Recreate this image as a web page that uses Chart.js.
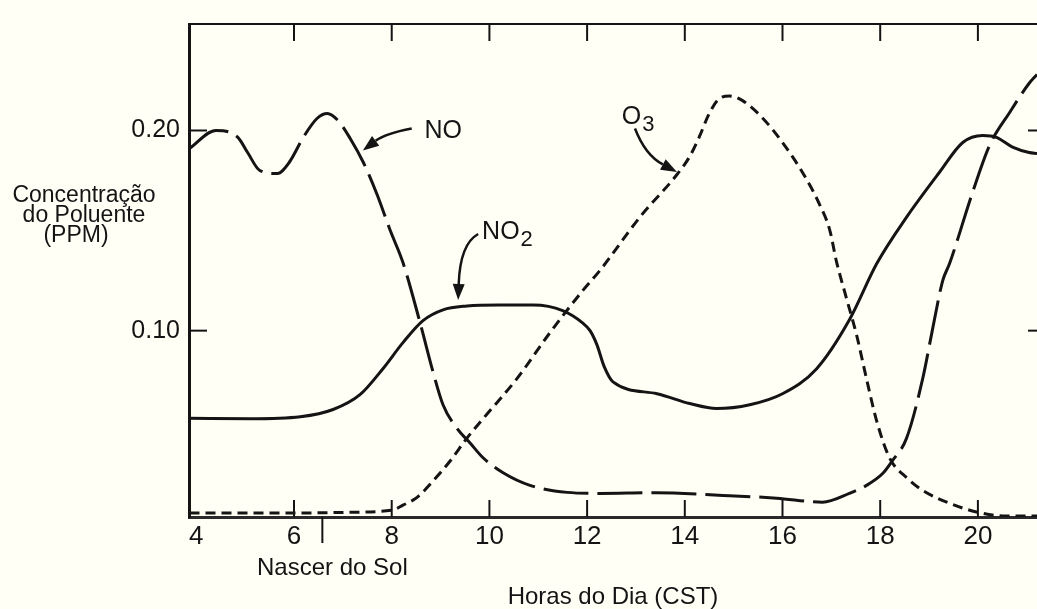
<!DOCTYPE html>
<html>
<head>
<meta charset="utf-8">
<script src="https://cdn.jsdelivr.net/npm/chart.js@4/dist/chart.umd.min.js"></script>
<style>
  body { margin: 0; background: #fffff6; }
  #wrap { width: 1037px; height: 609px; }
</style>
</head>
<body>
<div id="wrap"><canvas id="smogChart" width="1037" height="609"></canvas></div>
<script>
// hours of day (CST) and concentrations (ppm)
const noHours = [3.86, 4.4, 4.85, 5.05, 5.3, 5.66, 5.9, 6.2, 6.47, 6.68, 6.9, 7.15, 7.42, 7.7, 7.97, 8.23, 8.58, 8.85, 9.05, 9.34, 9.6, 9.87, 10.28, 10.83, 11.59, 12.26, 13.4, 14.78, 15.88, 16.82, 17.37, 17.72, 18.05, 18.25, 18.54, 18.87, 19.07, 19.28, 19.42, 19.89, 20.24, 20.65, 21.05, 21.21];
const noValues = [0.191, 0.200, 0.1966, 0.189, 0.180, 0.1785, 0.184, 0.197, 0.206, 0.2085, 0.205, 0.196, 0.184, 0.168, 0.150, 0.134, 0.104, 0.079, 0.063, 0.051, 0.044, 0.0365, 0.029, 0.0227, 0.0192, 0.0187, 0.019, 0.0177, 0.0163, 0.0143, 0.0187, 0.0227, 0.0286, 0.035, 0.0463, 0.076, 0.1005, 0.125, 0.1335, 0.169, 0.1926, 0.209, 0.2236, 0.228];

const no2Hours = [3.86, 5.1, 6.13, 6.8, 7.35, 7.82, 8.23, 8.64, 9.05, 9.54, 10.2, 10.9, 11.5, 11.9, 12.06, 12.2, 12.35, 12.53, 13.43, 14.1, 14.65, 15.33, 16.0, 16.7, 17.37, 17.93, 18.54, 19.21, 19.69, 20.1, 20.38, 20.71, 21.05, 21.21];
const no2Values = [0.0562, 0.0560, 0.057, 0.0606, 0.068, 0.081, 0.094, 0.105, 0.1104, 0.1123, 0.1128, 0.1128, 0.110, 0.104, 0.1, 0.093, 0.082, 0.0744, 0.0685, 0.0636, 0.0611, 0.063, 0.0685, 0.081, 0.1054, 0.1335, 0.1567, 0.179, 0.194, 0.1975, 0.1966, 0.1917, 0.189, 0.1885];

const o3Hours = [3.86, 5, 6, 7, 8, 8.23, 8.52, 8.85, 9.2, 9.54, 9.87, 10.56, 11.24, 11.91, 12.26, 13.08, 13.84, 14.1, 14.3, 14.5, 14.7, 14.92, 15.19, 15.6, 16.0, 16.41, 16.76, 16.97, 17.1, 17.3, 17.52, 17.72, 17.93, 18.19, 18.54, 18.87, 19.42, 19.97, 20.58, 21.21];
const o3Values = [0.0089, 0.0089, 0.0089, 0.0092, 0.0103, 0.0128, 0.0167, 0.025, 0.035, 0.0463, 0.056, 0.0759, 0.099, 0.120, 0.130, 0.1567, 0.178, 0.187, 0.197, 0.2085, 0.2158, 0.2172, 0.2148, 0.206, 0.194, 0.179, 0.163, 0.15, 0.135, 0.117, 0.0975, 0.0759, 0.0547, 0.0365, 0.0266, 0.0202, 0.0138, 0.0094, 0.0074, 0.0074];

const xTicks = [4, 6, 8, 10, 12, 14, 16, 18, 20];
const yTicks = [0.10, 0.20];
const sunrise = 6.58;

const ink = '#141414';
const font = '"Liberation Sans", Arial, sans-serif';

const pts = (hs, vs) => hs.map((h, i) => ({ x: h, y: vs[i] }));

function line(ctx, x1, y1, x2, y2) {
    ctx.beginPath();
    ctx.moveTo(x1, y1);
    ctx.lineTo(x2, y2);
    ctx.stroke();
}

// curved arrow with filled head, points given in data units
function arrow(ctx, x, y, from, ctrl, tip) {
    const p0 = [x.getPixelForValue(from[0]), y.getPixelForValue(from[1])];
    const c = [x.getPixelForValue(ctrl[0]), y.getPixelForValue(ctrl[1])];
    const p1 = [x.getPixelForValue(tip[0]), y.getPixelForValue(tip[1])];
    const ang = Math.atan2(p1[1] - c[1], p1[0] - c[0]);
    const len = 16, w = 6;
    const bx = p1[0] - len * Math.cos(ang), by = p1[1] - len * Math.sin(ang);
    ctx.lineWidth = 2.5;
    ctx.beginPath();
    ctx.moveTo(p0[0], p0[1]);
    ctx.quadraticCurveTo(c[0], c[1], bx, by);
    ctx.stroke();
    ctx.beginPath();
    ctx.moveTo(p1[0], p1[1]);
    ctx.lineTo(bx + w * Math.sin(ang), by - w * Math.cos(ang));
    ctx.lineTo(bx - w * Math.sin(ang), by + w * Math.cos(ang));
    ctx.closePath();
    ctx.fill();
}

function chem(ctx, x, y, base, sub, at) {
    const px = x.getPixelForValue(at[0]), py = y.getPixelForValue(at[1]);
    ctx.font = '25px ' + font;
    ctx.textAlign = 'left';
    ctx.textBaseline = 'alphabetic';
    ctx.fillText(base, px, py);
    if (sub) {
        const w = ctx.measureText(base).width;
        ctx.font = '22px ' + font;
        ctx.fillText(sub, px + w + 1, py + 7);
    }
}

const framePlugin = {
    id: 'frame',
    afterDraw(chart) {
        const { ctx, chartArea: a, scales: { x, y } } = chart;
        ctx.save();
        ctx.strokeStyle = ink;
        ctx.fillStyle = ink;

        ctx.lineWidth = 2;
        line(ctx, a.left, a.top, a.right, a.top);

        x.ticks.forEach(t => {
            if (t.value <= 4) return;
            const px = x.getPixelForValue(t.value);
            line(ctx, px, a.top, px, a.top + 17);
            line(ctx, px, a.bottom, px, a.bottom - 17);
        });
        y.ticks.forEach(t => {
            const py = y.getPixelForValue(t.value);
            line(ctx, a.left, py, a.left + 18, py);
            line(ctx, a.right - 9, py, a.right, py);
        });

        // sunrise mark under the axis
        const sx = x.getPixelForValue(sunrise);
        line(ctx, sx, a.bottom, sx, a.bottom + 26);
        ctx.font = '24px ' + font;
        ctx.textAlign = 'left';
        ctx.textBaseline = 'alphabetic';
        ctx.fillText('Nascer do Sol', 257, 575);

        // y title
        ctx.font = '23px ' + font;
        ctx.textAlign = 'center';
        ctx.fillText('Concentração', 84, 202);
        ctx.fillText('do Poluente', 84, 222);
        ctx.fillText('(PPM)', 76, 242);

        // curve labels
        chem(ctx, x, y, 'NO', '', [8.67, 0.196]);
        arrow(ctx, x, y, [8.41, 0.201], [7.87, 0.1985], [7.41, 0.190]);
        chem(ctx, x, y, 'NO', '2', [9.85, 0.1458]);
        arrow(ctx, x, y, [9.77, 0.1483], [9.4, 0.1433], [9.36, 0.1153]);
        chem(ctx, x, y, 'O', '3', [12.71, 0.2034]);
        arrow(ctx, x, y, [12.98, 0.201], [13.19, 0.1877], [13.84, 0.1793]);
        ctx.restore();
    }
};

new Chart(document.getElementById('smogChart'), {
    type: 'line',
    data: {
        datasets: [
            { label: 'NO', data: pts(noHours, noValues), borderDash: [45, 9] },
            { label: 'NO2', data: pts(no2Hours, no2Values) },
            { label: 'O3', data: pts(o3Hours, o3Values), borderDash: [10, 6] }
        ]
    },
    options: {
        responsive: false,
        animation: false,
        layout: { padding: { top: 17, right: 0, left: 0, bottom: 0 } },
        elements: {
            point: { radius: 0 },
            line: { borderColor: ink, borderWidth: 3, cubicInterpolationMode: 'monotone', fill: false }
        },
        plugins: { legend: { display: false }, tooltip: { enabled: false } },
        scales: {
            x: {
                type: 'linear',
                min: 3.85,
                max: 21.21,
                afterBuildTicks: s => { s.ticks = xTicks.map(v => ({ value: v })); },
                afterFit: s => { s.height = 92; },
                grid: { display: false, drawTicks: false },
                border: { display: true, width: 3, color: '#2a2a2a' },
                ticks: { color: ink, padding: 4, font: { family: font, size: 26 }, maxRotation: 0, callback: v => String(v) },
                title: { display: true, text: 'Horas do Dia (CST)', color: ink, padding: 0, font: { family: font, size: 24, lineHeight: 1 } }
            },
            y: {
                min: 0.0069,
                max: 0.2532,
                afterBuildTicks: s => { s.ticks = yTicks.map(v => ({ value: v })); },
                afterFit: s => { s.width = 189; },
                grid: { display: false, drawTicks: false },
                border: { display: true, width: 3, color: ink },
                ticks: { color: ink, padding: 9, font: { family: font, size: 25 }, callback: v => v.toFixed(2) }
            }
        }
    },
    plugins: [framePlugin]
});
</script>
</body>
</html>
